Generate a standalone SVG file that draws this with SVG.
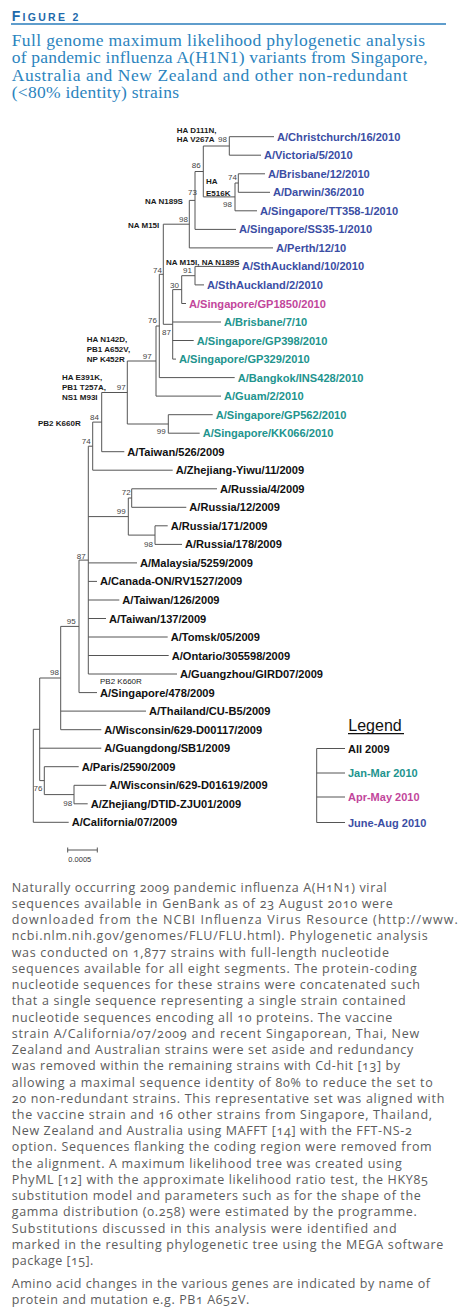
<svg xmlns="http://www.w3.org/2000/svg" width="472" height="1312" viewBox="0 0 472 1312">
<style>
.hdr{font-family:"Liberation Sans",Arial,sans-serif;font-weight:bold;fill:#1e6aab}
.ttl{font-family:"Liberation Serif","Times New Roman",serif;font-size:17.5px;fill:#2c84be}
.tx{font-family:"Liberation Sans",Arial,sans-serif;font-weight:bold;font-size:11.1px}
.b{fill:#3b4ea4}.t{fill:#22948e}.m{fill:#c2469b}.k{fill:#111}
.bs{font-family:"Liberation Sans",Arial,sans-serif;font-size:8px;fill:#444}
.mu{font-family:"Liberation Sans",Arial,sans-serif;font-weight:bold;font-size:8px;fill:#1a1a1a}
.ln{stroke:#555;stroke-width:1;fill:none}
.body{font-family:"Open Sans","Liberation Sans",sans-serif;font-size:12.5px;fill:#5c5c5c;font-variant-numeric:oldstyle-nums}
.lg{font-family:"Liberation Sans",Arial,sans-serif;font-weight:bold;font-size:11px}
</style>
<rect width="472" height="1312" fill="#fff"/>
<g id="header">
<text class="hdr" x="11.7" y="20.7" textLength="66.6" lengthAdjust="spacing"><tspan font-size="14">F</tspan><tspan font-size="10.5">IGURE 2</tspan></text>
<line x1="11" y1="24" x2="446" y2="24" stroke="#2a7cbb" stroke-width="1.6"/>
<text class="ttl" x="11.7" y="45.5" textLength="413.3" lengthAdjust="spacing">Full genome maximum likelihood phylogenetic analysis</text>
<text class="ttl" x="11.7" y="63" textLength="416" lengthAdjust="spacing">of pandemic influenza A(H1N1) variants from Singapore,</text>
<text class="ttl" x="11.7" y="80.7" textLength="395.6" lengthAdjust="spacing">Australia and New Zealand and other non-redundant</text>
<text class="ttl" x="11.7" y="98.2" textLength="167.3" lengthAdjust="spacing">(&lt;80% identity) strains</text>
</g>
<g id="connectors" class="ln">
<path d="M229.3 136.7H274M229.3 155.2H261M238.3 173.8H265M238.3 192.3H270M235 210.8H257M195 229.4H236M189.3 247.9H273M195 266.4H239M195 284.9H204M181.7 303.5H186M172.7 322H221M172.7 340.5H193.7M172.7 359.1H176M159.3 377.6H234.7M156 396.1H221M168.3 414.7H212.7M168.3 433.2H199.7"/>
<path d="M101.7 451.7H124.3M92.7 470.2H172.7M131.7 488.8H217M131.7 507.3H186.3M155 525.8H167.7M155 544.4H182M88.3 562.9H137M88.3 581.4H97M88.3 600H119.3M88.3 618.5H106M88.3 637H167.7M88.3 655.5H168.7M88.3 674H177M79 692.6H97M60.7 711.1H146M60.7 729.7H101.3M39.7 748.2H101.3M44.3 766.7H78.7M74 785.3H106.3M74 803.8H87.7M33.3 822.3H68.7"/>
<path d="M229.3 136.7V155.2M238.3 173.8V192.3M235 183V210.8M235 183H238.3M203.3 146V196.9M203.3 146H229.3M203.3 196.9H235M195 171.5V229.4M195 171.5H203.3M189.3 200.4V247.9M189.3 200.4H195M195 266.4V284.9M181.7 275.7V303.5M181.7 275.7H195M172.7 289.6V359.1M172.7 289.6H181.7M163.3 224.2V324.3M163.3 224.2H189.3M163.3 324.3H172.7M159.3 274.3V377.6M159.3 274.3H163.3M156 326V396.1M156 326H159.3M168.3 414.7V433.2M127.3 361V424M127.3 361H156M127.3 424H168.3M101.7 392.5V451.7M101.7 392.5H127.3M92.7 422.1V470.2M92.7 422.1H101.7"/>
<path d="M131.7 488.8V507.3M155 525.8V544.4M128.3 498V535.1M128.3 498H131.7M128.3 535.1H155M88.3 446.2V674M88.3 446.2H92.7M88.3 516.6H128.3M79 560.1V692.6M79 560.1H88.3M60.7 626.4V729.7M60.7 626.4H79M39.7 678V780.6M39.7 678H60.7M74 785.3V803.8M44.3 766.7V794.6M44.3 794.6H74M39.7 780.6H44.3M33.3 729.3V822.3M33.3 729.3H39.7"/>
<path d="M316.7 748.5V822.5M316.7 748.5H345M316.7 773H345M316.7 797H345M316.7 822.5H345"/>
<path d="M67.7 850H97.3M67.7 847.5V852.5M97.3 847.5V852.5"/>
</g>
<g id="taxa" class="tx">
<g id="n0"><text class="b" x="277" y="140.7">A/Christchurch/16/2010</text></g>
<g id="n1"><text class="b" x="264" y="159.2">A/Victoria/5/2010</text></g>
<g id="n2"><text class="b" x="268" y="177.8">A/Brisbane/12/2010</text></g>
<g id="n3"><text class="b" x="273" y="196.3">A/Darwin/36/2010</text></g>
<g id="n4"><text class="b" x="260" y="214.8">A/Singapore/TT358-1/2010</text></g>
<g id="n5"><text class="b" x="239" y="233.4">A/Singapore/SS35-1/2010</text></g>
<g id="n6"><text class="b" x="276" y="251.9">A/Perth/12/10</text></g>
<g id="n7"><text class="b" x="242" y="270.4">A/SthAuckland/10/2010</text></g>
<g id="n8"><text class="b" x="207" y="288.9">A/SthAuckland/2/2010</text></g>
<g id="n9"><text class="m" x="189" y="307.5">A/Singapore/GP1850/2010</text></g>
<g id="n10"><text class="t" x="224" y="326">A/Brisbane/7/10</text></g>
<g id="n11"><text class="t" x="196.7" y="344.5">A/Singapore/GP398/2010</text></g>
<g id="n12"><text class="t" x="179" y="363.1">A/Singapore/GP329/2010</text></g>
<g id="n13"><text class="t" x="237.7" y="381.6">A/Bangkok/INS428/2010</text></g>
<g id="n14"><text class="t" x="224" y="400.1">A/Guam/2/2010</text></g>
<g id="n15"><text class="t" x="215.7" y="418.7">A/Singapore/GP562/2010</text></g>
<g id="n16"><text class="t" x="202.7" y="437.2">A/Singapore/KK066/2010</text></g>
<g id="n17"><text class="k" x="127.3" y="455.7">A/Taiwan/526/2009</text></g>
<g id="n18"><text class="k" x="175.7" y="474.2">A/Zhejiang-Yiwu/11/2009</text></g>
<g id="n19"><text class="k" x="220" y="492.8">A/Russia/4/2009</text></g>
<g id="n20"><text class="k" x="189.3" y="511.3">A/Russia/12/2009</text></g>
<g id="n21"><text class="k" x="170.7" y="529.8">A/Russia/171/2009</text></g>
<g id="n22"><text class="k" x="185" y="548.4">A/Russia/178/2009</text></g>
<g id="n23"><text class="k" x="140" y="566.9">A/Malaysia/5259/2009</text></g>
<g id="n24"><text class="k" x="100" y="585.4">A/Canada-ON/RV1527/2009</text></g>
<g id="n25"><text class="k" x="122.3" y="604">A/Taiwan/126/2009</text></g>
<g id="n26"><text class="k" x="109" y="622.5">A/Taiwan/137/2009</text></g>
<g id="n27"><text class="k" x="170.7" y="641">A/Tomsk/05/2009</text></g>
<g id="n28"><text class="k" x="171.7" y="659.5">A/Ontario/305598/2009</text></g>
<g id="n29"><text class="k" x="180" y="678">A/Guangzhou/GIRD07/2009</text></g>
<g id="n30"><text class="k" x="100" y="696.6">A/Singapore/478/2009</text></g>
<g id="n31"><text class="k" x="149" y="715.1">A/Thailand/CU-B5/2009</text></g>
<g id="n32"><text class="k" x="104.3" y="733.7">A/Wisconsin/629-D00117/2009</text></g>
<g id="n33"><text class="k" x="104.3" y="752.2">A/Guangdong/SB1/2009</text></g>
<g id="n34"><text class="k" x="81.7" y="770.7">A/Paris/2590/2009</text></g>
<g id="n35"><text class="k" x="109.3" y="789.3">A/Wisconsin/629-D01619/2009</text></g>
<g id="n36"><text class="k" x="90.7" y="807.8">A/Zhejiang/DTID-ZJU01/2009</text></g>
<g id="n37"><text class="k" x="71.7" y="826.3">A/California/07/2009</text></g>
</g>
<g id="support" class="bs">
<text x="218" y="142.3">98</text><text x="191.7" y="168.3">86</text><text x="228" y="180">74</text><text x="223" y="207.3">98</text>
<text x="188" y="194.5">73</text><text x="179" y="221.7">98</text><text x="153" y="272.7">74</text><text x="183" y="272.7">91</text>
<text x="170" y="287.7">30</text><text x="148" y="323.3">76</text><text x="162" y="335">87</text><text x="142.7" y="359">97</text>
<text x="116.7" y="390">97</text><text x="156.7" y="433.5">99</text><text x="90" y="420">84</text><text x="81.7" y="444.3">74</text>
<text x="121.7" y="495">72</text><text x="116.7" y="514">99</text><text x="144" y="547">98</text><text x="76.7" y="558.5">87</text>
<text x="66.7" y="624">95</text><text x="50" y="675">98</text><text x="33.5" y="791">76</text><text x="63.3" y="806">98</text>
</g>
<g id="mutations" class="mu">
<text x="176.7" y="133.3">HA D111N,</text><text x="176.7" y="142.3">HA V267A</text>
<text x="206" y="184.3">HA</text><text x="206" y="196">E516K</text>
<text x="145" y="204">NA N189S</text><text x="128" y="227.7">NA M15I</text>
<text x="166" y="264.5">NA M15I, NA N189S</text>
<text x="86.7" y="341.7">HA N142D,</text><text x="86.7" y="351.7">PB1 A652V,</text><text x="86.7" y="361.7">NP K452R</text>
<text x="62" y="379.5">HA E391K,</text><text x="62" y="389.5">PB1 T257A,</text><text x="62" y="399.5">NS1 M93I</text>
<text x="38" y="426">PB2 K660R</text>
<text x="100" y="684" font-weight="normal">PB2 K660R</text>
</g>
<g id="legend">
<text x="348.3" y="730.7" font-family="Liberation Sans, Arial, sans-serif" font-size="16" fill="#111">Legend</text>
<line x1="348" y1="733.6" x2="404" y2="733.6" stroke="#111" stroke-width="1.2"/>
<text class="lg k" x="348" y="752.5">All 2009</text>
<text class="lg t" x="348" y="777">Jan-Mar 2010</text>
<text class="lg m" x="348" y="801">Apr-May 2010</text>
<text class="lg b" x="348" y="826.5">June-Aug 2010</text>
</g>
<g id="scale"><text x="68.3" y="861.7" font-family="Liberation Sans, Arial, sans-serif" font-size="7.5" fill="#333">0.0005</text></g>
<g id="caption" class="body">
<text x="11.7" y="891.7" textLength="375" lengthAdjust="spacing">Naturally occurring 2009 pandemic influenza A(H1N1) viral</text>
<text x="11.7" y="907.9" textLength="381" lengthAdjust="spacing">sequences available in GenBank as of 23 August 2010 were</text>
<text x="11.7" y="924.2" textLength="446" lengthAdjust="spacing">downloaded from the NCBI Influenza Virus Resource (http://www.</text>
<text x="11.7" y="940.4" textLength="416" lengthAdjust="spacing">ncbi.nlm.nih.gov/genomes/FLU/FLU.html). Phylogenetic analysis</text>
<text x="11.7" y="956.6" textLength="377.3" lengthAdjust="spacing">was conducted on 1,877 strains with full-length nucleotide</text>
<text x="11.7" y="972.9" textLength="405" lengthAdjust="spacing">sequences available for all eight segments. The protein-coding</text>
<text x="11.7" y="989.1" textLength="408.3" lengthAdjust="spacing">nucleotide sequences for these strains were concatenated such</text>
<text x="11.7" y="1005.3" textLength="394" lengthAdjust="spacing">that a single sequence representing a single strain contained</text>
<text x="11.7" y="1021.5" textLength="380.6" lengthAdjust="spacing">nucleotide sequences encoding all 10 proteins. The vaccine</text>
<text x="11.7" y="1037.8" textLength="407.6" lengthAdjust="spacing">strain A/California/07/2009 and recent Singaporean, Thai, New</text>
<text x="11.7" y="1054" textLength="401.6" lengthAdjust="spacing">Zealand and Australian strains were set aside and redundancy</text>
<text x="11.7" y="1070.2" textLength="388.3" lengthAdjust="spacing">was removed within the remaining strains with Cd-hit [13] by</text>
<text x="11.7" y="1086.5" textLength="421" lengthAdjust="spacing">allowing a maximal sequence identity of 80% to reduce the set to</text>
<text x="11.7" y="1102.7" textLength="432.6" lengthAdjust="spacing">20 non-redundant strains. This representative set was aligned with</text>
<text x="11.7" y="1118.9" textLength="420.3" lengthAdjust="spacing">the vaccine strain and 16 other strains from Singapore, Thailand,</text>
<text x="11.7" y="1135.2" textLength="400" lengthAdjust="spacing">New Zealand and Australia using MAFFT [14] with the FFT-NS-2</text>
<text x="11.7" y="1151.4" textLength="420" lengthAdjust="spacing">option. Sequences flanking the coding region were removed from</text>
<text x="11.7" y="1167.6" textLength="390" lengthAdjust="spacing">the alignment. A maximum likelihood tree was created using</text>
<text x="11.7" y="1183.9" textLength="416" lengthAdjust="spacing">PhyML [12] with the approximate likelihood ratio test, the HKY85</text>
<text x="11.7" y="1200.1" textLength="409" lengthAdjust="spacing">substitution model and parameters such as for the shape of the</text>
<text x="11.7" y="1216.3" textLength="405" lengthAdjust="spacing">gamma distribution (0.258) were estimated by the programme.</text>
<text x="11.7" y="1232.6" textLength="385" lengthAdjust="spacing">Substitutions discussed in this analysis were identified and</text>
<text x="11.7" y="1248.8" textLength="431.6" lengthAdjust="spacing">marked in the resulting phylogenetic tree using the MEGA software</text>
<text x="11.7" y="1265" textLength="81.6" lengthAdjust="spacing">package [15].</text>
<text x="11.7" y="1287.7" textLength="418.3" lengthAdjust="spacing">Amino acid changes in the various genes are indicated by name of</text>
<text x="11.7" y="1304" textLength="237.6" lengthAdjust="spacing">protein and mutation e.g. PB1 A652V.</text>
</g>
</svg>
